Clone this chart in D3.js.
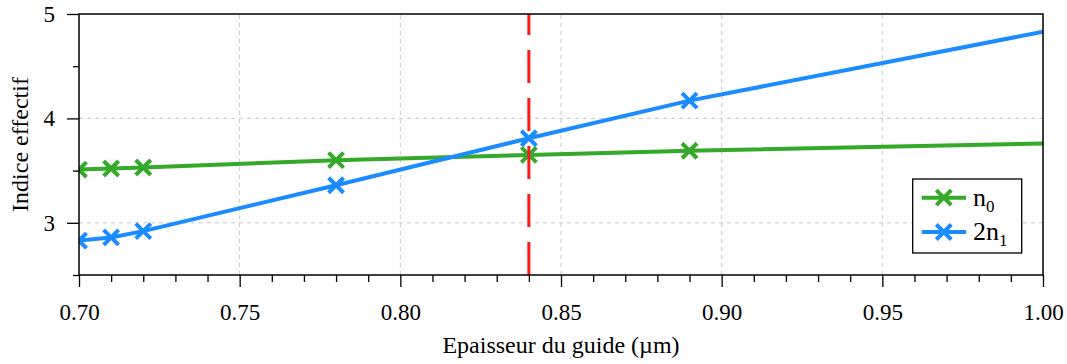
<!DOCTYPE html>
<html>
<head>
<meta charset="utf-8">
<script src="https://cdn.jsdelivr.net/npm/d3@7"></script>
<style>
  html, body { margin: 0; padding: 0; background: #fff; }
  svg { display: block; }
  svg text { font-family: 'Liberation Serif', 'Times New Roman', Times, serif !important; fill: #000; }
</style>
</head>
<body>
<svg id="chart" width="1067" height="364"></svg>
<script>
// ---- data ----
const thickness = [0.70, 0.71, 0.72, 0.78, 0.84, 0.89];
const n0Values = [3.51, 3.52, 3.53, 3.60, 3.65, 3.69];
const twoN1Values = [2.83, 2.86, 2.92, 3.36, 3.81, 4.17];
// line continuation (no marker) to the right edge
const endThickness = 1.00;
const n0AtEnd = 3.76;
const twoN1AtEnd = 4.83;
const cutoffThickness = 0.84;
const xMajorTicks = [0.70, 0.75, 0.80, 0.85, 0.90, 0.95, 1.00];
const xMinorTicks = d3.range(70, 101).map(v => v / 100);
const yMajorTicks = [3, 4, 5];
const yMinorTicks = [2.5, 3.5, 4.5];
const seriesNames = ["n0", "2n1"];

// ---- layout ----
const FONT = "'Liberation Serif', 'Times New Roman', Times, serif";
const svg = d3.select("#chart");
const L = 79, R = 1043, T = 14, B = 275;
const x = d3.scaleLinear().domain([0.70, 1.00]).range([L, R]);
const y = d3.scaleLinear().domain([2.5, 5]).range([B, T]);
const green = "#35a92a", blue = "#1a8cff", red = "#ff1a1a";

svg.append("defs").append("clipPath").attr("id", "clip")
  .append("rect").attr("x", L).attr("y", T).attr("width", R - L).attr("height", B - T);

// grid
const grid = svg.append("g").attr("stroke", "#c8c8c8").attr("stroke-width", 1).attr("stroke-dasharray", "4,4");
xMajorTicks.filter(v => v > 0.70 && v < 1.00).forEach(v => {
  grid.append("line").attr("x1", x(v)).attr("x2", x(v)).attr("y1", B).attr("y2", T);
});
yMajorTicks.filter(v => v < 5).forEach(v => {
  grid.append("line").attr("x1", L).attr("x2", R).attr("y1", y(v)).attr("y2", y(v));
});

// series
const plot = svg.append("g").attr("clip-path", "url(#clip)");
const line = d3.line().x(d => x(d[0])).y(d => y(d[1]));
const series = [
  { name: seriesNames[0], color: green, values: n0Values, end: n0AtEnd },
  { name: seriesNames[1], color: blue, values: twoN1Values, end: twoN1AtEnd }
];
const ms = 7.5;
function drawX(g, cx, cy, color) {
  g.append("path")
    .attr("d", `M${cx - ms},${cy - ms}L${cx + ms},${cy + ms}M${cx - ms},${cy + ms}L${cx + ms},${cy - ms}`)
    .attr("stroke", color).attr("stroke-width", 4).attr("fill", "none");
}
series.forEach(s => {
  const pts = thickness.map((t, i) => [t, s.values[i]]).concat([[endThickness, s.end]]);
  plot.append("path").datum(pts).attr("d", line)
    .attr("fill", "none").attr("stroke", s.color).attr("stroke-width", 4);
  thickness.forEach((t, i) => drawX(plot, x(t), y(s.values[i]), s.color));
});

// red dashed vertical line (drawn bottom -> top)
svg.append("line")
  .attr("x1", x(cutoffThickness)).attr("x2", x(cutoffThickness))
  .attr("y1", B).attr("y2", T)
  .attr("stroke", red).attr("stroke-width", 3)
  .attr("stroke-dasharray", "33,15");

// axes
function styleAxis(g) {
  g.attr("font-family", FONT);
  g.select(".domain").remove();
  g.selectAll("line").attr("stroke", "#000").attr("stroke-width", 1.3);
}
const xAxis = svg.append("g").attr("transform", `translate(0,${B})`)
  .call(d3.axisBottom(x).tickValues(xMajorTicks).tickSize(12).tickFormat(d3.format(".2f")));
styleAxis(xAxis);
xAxis.selectAll("text").attr("y", 45).attr("dy", 0).attr("font-family", FONT).attr("font-size", 23);

const xMinor = svg.append("g").attr("transform", `translate(0,${B})`)
  .call(d3.axisBottom(x).tickValues(xMinorTicks.filter(v => !xMajorTicks.some(m => Math.abs(m - v) < 1e-9))).tickSize(7).tickFormat(""));
styleAxis(xMinor);

const yAxis = svg.append("g").attr("transform", `translate(${L},0)`)
  .call(d3.axisLeft(y).tickValues(yMajorTicks).tickSize(12).tickPadding(12).tickFormat(d3.format("d")));
styleAxis(yAxis);
yAxis.selectAll("text").attr("dy", "0.33em").attr("font-family", FONT).attr("font-size", 23);

const yMinor = svg.append("g").attr("transform", `translate(${L},0)`)
  .call(d3.axisLeft(y).tickValues(yMinorTicks).tickSize(6).tickFormat(""));
styleAxis(yMinor);

// frame
svg.append("rect").attr("x", L).attr("y", T).attr("width", R - L).attr("height", B - T)
  .attr("fill", "none").attr("stroke", "#000").attr("stroke-width", 1.5);

// axis titles
svg.append("text").attr("x", (L + R) / 2).attr("y", 353).attr("text-anchor", "middle")
  .attr("font-family", FONT).attr("font-size", 24).text("Epaisseur du guide (µm)");
svg.append("text").attr("transform", `translate(28,${(T + B) / 2}) rotate(-90)`)
  .attr("text-anchor", "middle").attr("font-family", FONT).attr("font-size", 24).text("Indice effectif");

// legend
const lg = svg.append("g");
lg.append("rect").attr("x", 912.7).attr("y", 179).attr("width", 109).attr("height", 74)
  .attr("fill", "#fff").attr("stroke", "#000").attr("stroke-width", 1.3);
const legendRows = [197.7, 232];
series.forEach((s, i) => {
  const cy = legendRows[i];
  lg.append("line").attr("x1", 921.7).attr("x2", 966).attr("y1", cy).attr("y2", cy)
    .attr("stroke", s.color).attr("stroke-width", 4);
  drawX(lg, 943.8, cy, s.color);
  const t = lg.append("text").attr("x", 973).attr("y", cy + 8)
    .attr("font-family", FONT).attr("font-size", 26);
  const main = s.name.slice(0, -1), sub = s.name.slice(-1);
  t.append("tspan").text(main);
  t.append("tspan").attr("dy", 6).attr("font-size", 17).text(sub);
});
</script>
</body>
</html>
